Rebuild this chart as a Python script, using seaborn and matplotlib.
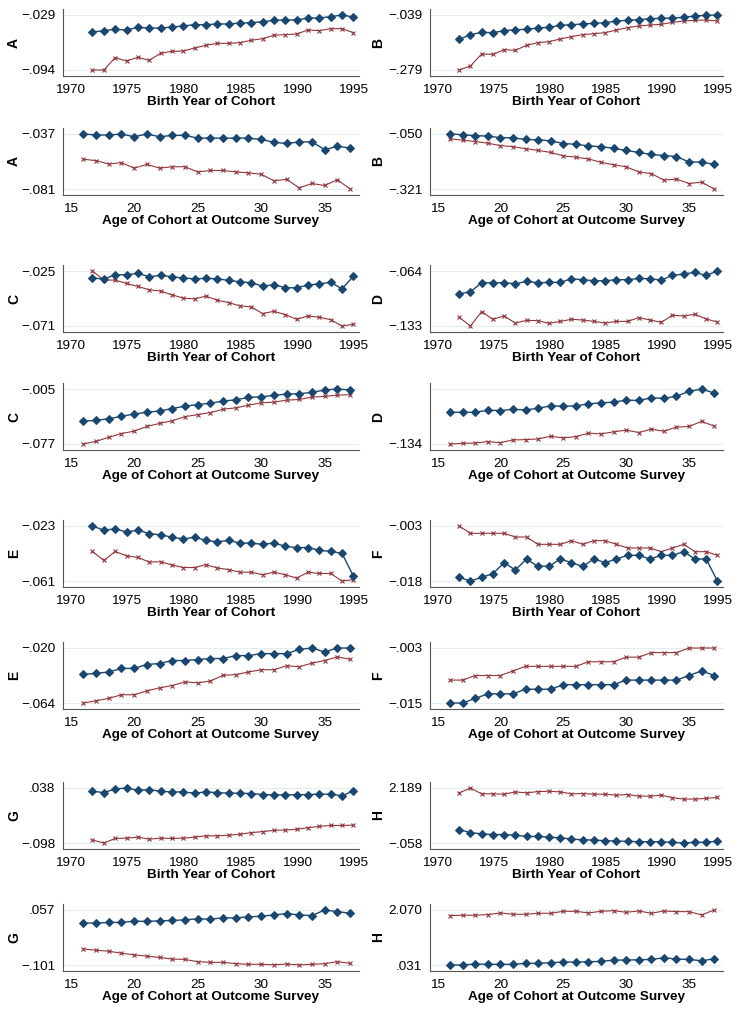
import numpy as np
import pandas as pd
import matplotlib
matplotlib.use('Agg')
import matplotlib.pyplot as plt
import seaborn as sns

years = list(range(1972, 1996))
ages = list(range(16, 38))

# ---- A ----
a_year_blue = [-0.0491, -0.0475, -0.0459, -0.0467, -0.0436, -0.0444, -0.0444, -0.0432, -0.0420, -0.0404, -0.0404, -0.0396,
               -0.0396, -0.0385, -0.0381, -0.0369, -0.0353, -0.0349, -0.0349, -0.0325, -0.0325, -0.0310, -0.0290, -0.0314]
a_year_red = [-0.0940, -0.0940, -0.0794, -0.0834, -0.0790, -0.0826, -0.0743, -0.0719, -0.0716, -0.0680, -0.0649, -0.0625,
              -0.0625, -0.0617, -0.0589, -0.0570, -0.0530, -0.0522, -0.0515, -0.0467, -0.0475, -0.0452, -0.0452, -0.0499]
a_age_blue = [-0.0370, -0.0378, -0.0378, -0.0370, -0.0392, -0.0370, -0.0392, -0.0381, -0.0381, -0.0403, -0.0403,
              -0.0403, -0.0403, -0.0403, -0.0414, -0.0436, -0.0446, -0.0433, -0.0433, -0.0496, -0.0468, -0.0482]
a_age_red = [-0.0572, -0.0583, -0.0610, -0.0599, -0.0643, -0.0613, -0.0643, -0.0632, -0.0632, -0.0673, -0.0662,
             -0.0662, -0.0673, -0.0681, -0.0692, -0.0744, -0.0733, -0.0801, -0.0766, -0.0782, -0.0736, -0.0810]

# ---- B ----
b_year_blue = [-0.1452, -0.1248, -0.1147, -0.1161, -0.1074, -0.1030, -0.1016, -0.0957, -0.0928, -0.0841, -0.0812, -0.0783,
               -0.0754, -0.0725, -0.0652, -0.0623, -0.0594, -0.0550, -0.0536, -0.0521, -0.0492, -0.0434, -0.0405, -0.0390]
b_year_red = [-0.2790, -0.2616, -0.2092, -0.2107, -0.1903, -0.1932, -0.1714, -0.1598, -0.1554, -0.1438, -0.1336, -0.1248,
              -0.1205, -0.1161, -0.1045, -0.0943, -0.0870, -0.0827, -0.0797, -0.0710, -0.0652, -0.0623, -0.0608, -0.0652]
b_age_blue = [-0.0500, -0.0534, -0.0584, -0.0601, -0.0685, -0.0685, -0.0769, -0.0786, -0.0837, -0.0971, -0.1005,
              -0.1089, -0.1123, -0.1207, -0.1308, -0.1409, -0.1510, -0.1560, -0.1611, -0.1880, -0.1880, -0.1998]
b_age_red = [-0.0736, -0.0803, -0.0870, -0.0954, -0.1072, -0.1123, -0.1224, -0.1308, -0.1409, -0.1577, -0.1644,
             -0.1729, -0.1897, -0.2015, -0.2116, -0.2368, -0.2452, -0.2772, -0.2722, -0.2940, -0.2873, -0.3210]

# ---- C ----
c_year_blue = [-0.0309, -0.0317, -0.0281, -0.0281, -0.0270, -0.0298, -0.0286, -0.0298, -0.0309, -0.0315, -0.0312, -0.0315,
               -0.0329, -0.0340, -0.0348, -0.0376, -0.0365, -0.0390, -0.0390, -0.0368, -0.0357, -0.0345, -0.0399, -0.0295]
c_year_red = [-0.0250, -0.0326, -0.0326, -0.0354, -0.0379, -0.0407, -0.0418, -0.0449, -0.0477, -0.0483, -0.0460, -0.0494,
              -0.0514, -0.0542, -0.0550, -0.0606, -0.0587, -0.0615, -0.0654, -0.0626, -0.0637, -0.0657, -0.0710, -0.0696]
c_age_blue = [-0.0470, -0.0461, -0.0439, -0.0408, -0.0377, -0.0355, -0.0337, -0.0306, -0.0275, -0.0253, -0.0236,
              -0.0209, -0.0191, -0.0160, -0.0152, -0.0134, -0.0116, -0.0112, -0.0094, -0.0063, -0.0050, -0.0063]
c_age_red = [-0.0770, -0.0735, -0.0682, -0.0633, -0.0602, -0.0540, -0.0501, -0.0465, -0.0412, -0.0386, -0.0359,
             -0.0315, -0.0297, -0.0262, -0.0231, -0.0222, -0.0196, -0.0187, -0.0156, -0.0147, -0.0130, -0.0125]

# ---- D ----
d_year_blue = [-0.0926, -0.0901, -0.0787, -0.0787, -0.0787, -0.0800, -0.0771, -0.0787, -0.0783, -0.0783, -0.0737, -0.0749,
               -0.0762, -0.0762, -0.0749, -0.0749, -0.0733, -0.0737, -0.0754, -0.0695, -0.0678, -0.0657, -0.0695, -0.0640]
d_year_red = [-0.1221, -0.1330, -0.1149, -0.1246, -0.1204, -0.1293, -0.1259, -0.1263, -0.1297, -0.1272, -0.1246, -0.1255,
              -0.1272, -0.1293, -0.1272, -0.1272, -0.1225, -0.1255, -0.1284, -0.1196, -0.1204, -0.1183, -0.1242, -0.1280]
d_age_blue = [-0.0827, -0.0827, -0.0827, -0.0794, -0.0799, -0.0778, -0.0789, -0.0761, -0.0723, -0.0728, -0.0723,
              -0.0690, -0.0674, -0.0663, -0.0630, -0.0636, -0.0592, -0.0603, -0.0565, -0.0488, -0.0450, -0.0516]
d_age_red = [-0.1340, -0.1329, -0.1324, -0.1302, -0.1318, -0.1274, -0.1269, -0.1258, -0.1214, -0.1242, -0.1220,
             -0.1165, -0.1176, -0.1143, -0.1116, -0.1154, -0.1100, -0.1133, -0.1067, -0.1056, -0.0974, -0.1051]

# ---- E ----
e_year_blue = [-0.0230, -0.0259, -0.0250, -0.0271, -0.0259, -0.0282, -0.0291, -0.0307, -0.0320, -0.0307, -0.0330, -0.0339,
               -0.0330, -0.0348, -0.0348, -0.0357, -0.0348, -0.0370, -0.0379, -0.0379, -0.0397, -0.0406, -0.0418, -0.0576]
e_year_red = [-0.0406, -0.0468, -0.0406, -0.0436, -0.0447, -0.0479, -0.0477, -0.0499, -0.0517, -0.0517, -0.0497, -0.0520,
              -0.0531, -0.0549, -0.0549, -0.0567, -0.0549, -0.0567, -0.0590, -0.0549, -0.0558, -0.0558, -0.0610, -0.0601]
e_age_blue = [-0.0411, -0.0403, -0.0392, -0.0363, -0.0363, -0.0332, -0.0324, -0.0300, -0.0300, -0.0292, -0.0284,
              -0.0284, -0.0261, -0.0261, -0.0245, -0.0245, -0.0245, -0.0211, -0.0200, -0.0232, -0.0200, -0.0200]
e_age_red = [-0.0640, -0.0622, -0.0603, -0.0574, -0.0574, -0.0543, -0.0519, -0.0500, -0.0471, -0.0479, -0.0464,
             -0.0419, -0.0413, -0.0392, -0.0374, -0.0374, -0.0342, -0.0350, -0.0321, -0.0300, -0.0271, -0.0290]

# ---- F ----
f_year_blue = [-0.017, -0.018, -0.017, -0.016, -0.013, -0.015, -0.012, -0.014, -0.014, -0.012, -0.013, -0.014,
               -0.012, -0.013, -0.012, -0.011, -0.011, -0.012, -0.011, -0.011, -0.010, -0.012, -0.012, -0.018]
f_year_red = [-0.003, -0.005, -0.005, -0.005, -0.005, -0.006, -0.006, -0.008, -0.008, -0.008, -0.007, -0.008,
              -0.007, -0.007, -0.008, -0.009, -0.009, -0.009, -0.010, -0.009, -0.008, -0.010, -0.010, -0.011]
f_age_blue = [-0.015, -0.015, -0.014, -0.013, -0.013, -0.013, -0.012, -0.012, -0.012, -0.011, -0.011,
              -0.011, -0.011, -0.011, -0.010, -0.010, -0.010, -0.010, -0.010, -0.009, -0.008, -0.009]
f_age_red = [-0.010, -0.010, -0.009, -0.009, -0.009, -0.008, -0.007, -0.007, -0.007, -0.007, -0.007,
             -0.006, -0.006, -0.006, -0.005, -0.005, -0.004, -0.004, -0.004, -0.003, -0.003, -0.003]

# ---- G ----
g_year_blue = [0.0299, 0.0267, 0.0356, 0.0380, 0.0324, 0.0340, 0.0299, 0.0283, 0.0283, 0.0251, 0.0283, 0.0267,
               0.0251, 0.0251, 0.0243, 0.0219, 0.0211, 0.0211, 0.0211, 0.0219, 0.0227, 0.0227, 0.0187, 0.0308]
g_year_red = [-0.0908, -0.0980, -0.0868, -0.0860, -0.0836, -0.0884, -0.0860, -0.0868, -0.0860, -0.0836, -0.0803, -0.0803,
              -0.0787, -0.0763, -0.0723, -0.0699, -0.0667, -0.0658, -0.0642, -0.0602, -0.0570, -0.0546, -0.0546, -0.0538]
g_age_blue = [0.0194, 0.0194, 0.0213, 0.0213, 0.0250, 0.0241, 0.0260, 0.0269, 0.0288, 0.0316, 0.0307,
              0.0344, 0.0344, 0.0373, 0.0391, 0.0429, 0.0467, 0.0429, 0.0410, 0.0570, 0.0523, 0.0476]
g_age_red = [-0.0549, -0.0586, -0.0614, -0.0671, -0.0718, -0.0755, -0.0793, -0.0840, -0.0849, -0.0915, -0.0934,
             -0.0934, -0.0972, -0.0990, -0.0990, -0.1005, -0.0981, -0.1010, -0.0990, -0.0972, -0.0915, -0.0962]

# ---- H ----
h_year_blue = [0.4871, 0.3675, 0.3143, 0.2877, 0.2877, 0.2611, 0.2079, 0.2079, 0.1813, 0.1547, 0.1016, 0.0750,
               0.0617, 0.0351, 0.0218, 0.0085, -0.0048, -0.0048, -0.0048, -0.0314, -0.0580, -0.0314, -0.0314, 0.0218]
h_year_red = [1.9896, 2.1890, 1.9497, 1.9497, 1.9364, 2.0294, 1.9896, 2.0427, 2.0560, 2.0294, 1.9497, 1.9630,
              1.9364, 1.9364, 1.8965, 1.9231, 1.8566, 1.8566, 1.8965, 1.7901, 1.7369, 1.7369, 1.7635, 1.8034]
h_age_blue = [0.0310, 0.0310, 0.0674, 0.0553, 0.0553, 0.0553, 0.0917, 0.0917, 0.1160, 0.1402, 0.1402,
              0.1524, 0.1645, 0.2131, 0.2131, 0.2252, 0.2373, 0.2980, 0.2495, 0.2373, 0.1888, 0.2616]
h_age_red = [1.8637, 1.8758, 1.8758, 1.9001, 1.9608, 1.9122, 1.9122, 1.9486, 1.9486, 2.0215, 2.0215,
             1.9608, 2.0215, 2.0457, 1.9850, 2.0336, 1.9486, 2.0336, 2.0093, 2.0093, 1.8879, 2.0700]

# y tick labels (max, min) as printed on each panel
ytick_labels = {
    ('A', 'year'): ['-.029', '-.094'], ('A', 'age'): ['-.037', '-.081'],
    ('B', 'year'): ['-.039', '-.279'], ('B', 'age'): ['-.050', '-.321'],
    ('C', 'year'): ['-.025', '-.071'], ('C', 'age'): ['-.005', '-.077'],
    ('D', 'year'): ['-.064', '-.133'], ('D', 'age'): ['', '-.134'],
    ('E', 'year'): ['-.023', '-.061'], ('E', 'age'): ['-.020', '-.064'],
    ('F', 'year'): ['-.003', '-.018'], ('F', 'age'): ['-.003', '-.015'],
    ('G', 'year'): ['.038', '-.098'], ('G', 'age'): ['.057', '-.101'],
    ('H', 'year'): ['2.189', '-.058'], ('H', 'age'): ['2.070', '.031'],
}

series = {
    'A': (a_year_blue, a_year_red, a_age_blue, a_age_red),
    'B': (b_year_blue, b_year_red, b_age_blue, b_age_red),
    'C': (c_year_blue, c_year_red, c_age_blue, c_age_red),
    'D': (d_year_blue, d_year_red, d_age_blue, d_age_red),
    'E': (e_year_blue, e_year_red, e_age_blue, e_age_red),
    'F': (f_year_blue, f_year_red, f_age_blue, f_age_red),
    'G': (g_year_blue, g_year_red, g_age_blue, g_age_red),
    'H': (h_year_blue, h_year_red, h_age_blue, h_age_red),
}

sns.set_style('white')
plt.rcParams['font.family'] = ['Liberation Sans', 'DejaVu Sans']
plt.rcParams['text.color'] = 'black'
plt.rcParams['axes.labelcolor'] = 'black'

BLUE = '#1a476f'
RED = '#90353b'
W, H = 741, 1015
fig = plt.figure(figsize=(W / 100, H / 100), dpi=100)

top_ticks = [15, 134, 271, 389, 526, 648, 788, 910]
cols = [(63, 359, 14), (430, 723, 378)]
SPAN, PAD = 55, 6

for g in range(4):
    for c, letter in enumerate(['ACEG'[g], 'BDFH'[g]]):
        yb, yr, ab, ar = series[letter]
        for k, kind in enumerate(['year', 'age']):
            t = top_ticks[2 * g + k]
            x0, x1, lab_x = cols[c]
            ax = fig.add_axes([x0 / W, 1 - (t - PAD + SPAN + 2 * PAD) / H,
                               (x1 - x0) / W, (SPAN + 2 * PAD) / H])
            if kind == 'year':
                xs, blue, red = years, yb, yr
            else:
                xs, blue, red = ages, ab, ar
            df = pd.DataFrame({'x': xs, 'blue': blue, 'red': red})
            sns.lineplot(data=df, x='x', y='red', ax=ax, color=RED, lw=0.8,
                         marker='x', markersize=3.0, mew=0.8, mec=RED)
            sns.lineplot(data=df, x='x', y='blue', ax=ax, color=BLUE, lw=1.0,
                         marker='D', markersize=3.7, mec=BLUE, mfc=BLUE)
            lo = min(min(blue), min(red))
            hi = max(max(blue), max(red))
            pad = (hi - lo) * PAD / SPAN
            ax.set_ylim(lo - pad, hi + pad)
            ax.set_yticks([hi, lo])
            ax.set_yticklabels([s.replace('-', '\u2212') for s in ytick_labels[(letter, kind)]])
            if kind == 'year':
                ax.set_xlim(1969.4, 1995.5)
                ax.set_xticks([1970, 1975, 1980, 1985, 1990, 1995])
                ax.set_xlabel('Birth Year of Cohort', fontsize=9.7, fontweight='bold', labelpad=0)
            else:
                ax.set_xlim(14.4, 37.7)
                ax.set_xticks([15, 20, 25, 30, 35])
                ax.set_xlabel('Age of Cohort at Outcome Survey', fontsize=9.7, fontweight='bold', labelpad=0)
            ax.set_ylabel('')
            ax.yaxis.grid(True, color='#e6edf1', lw=0.8)
            ax.xaxis.grid(False)
            for s in ['top', 'right']:
                ax.spines[s].set_visible(False)
            for s in ['left', 'bottom']:
                ax.spines[s].set_color('#555555')
                ax.spines[s].set_linewidth(0.8)
            ax.tick_params(direction='out', length=4, width=0.8, color='#555555',
                           labelsize=9.7, pad=1.5, labelcolor='black')
            fig.text(lab_x / W, 1 - (t + SPAN / 2) / H, letter, rotation=90,
                     ha='center', va='center', fontsize=10, fontweight='bold')

fig.savefig('out.png', dpi=100)
